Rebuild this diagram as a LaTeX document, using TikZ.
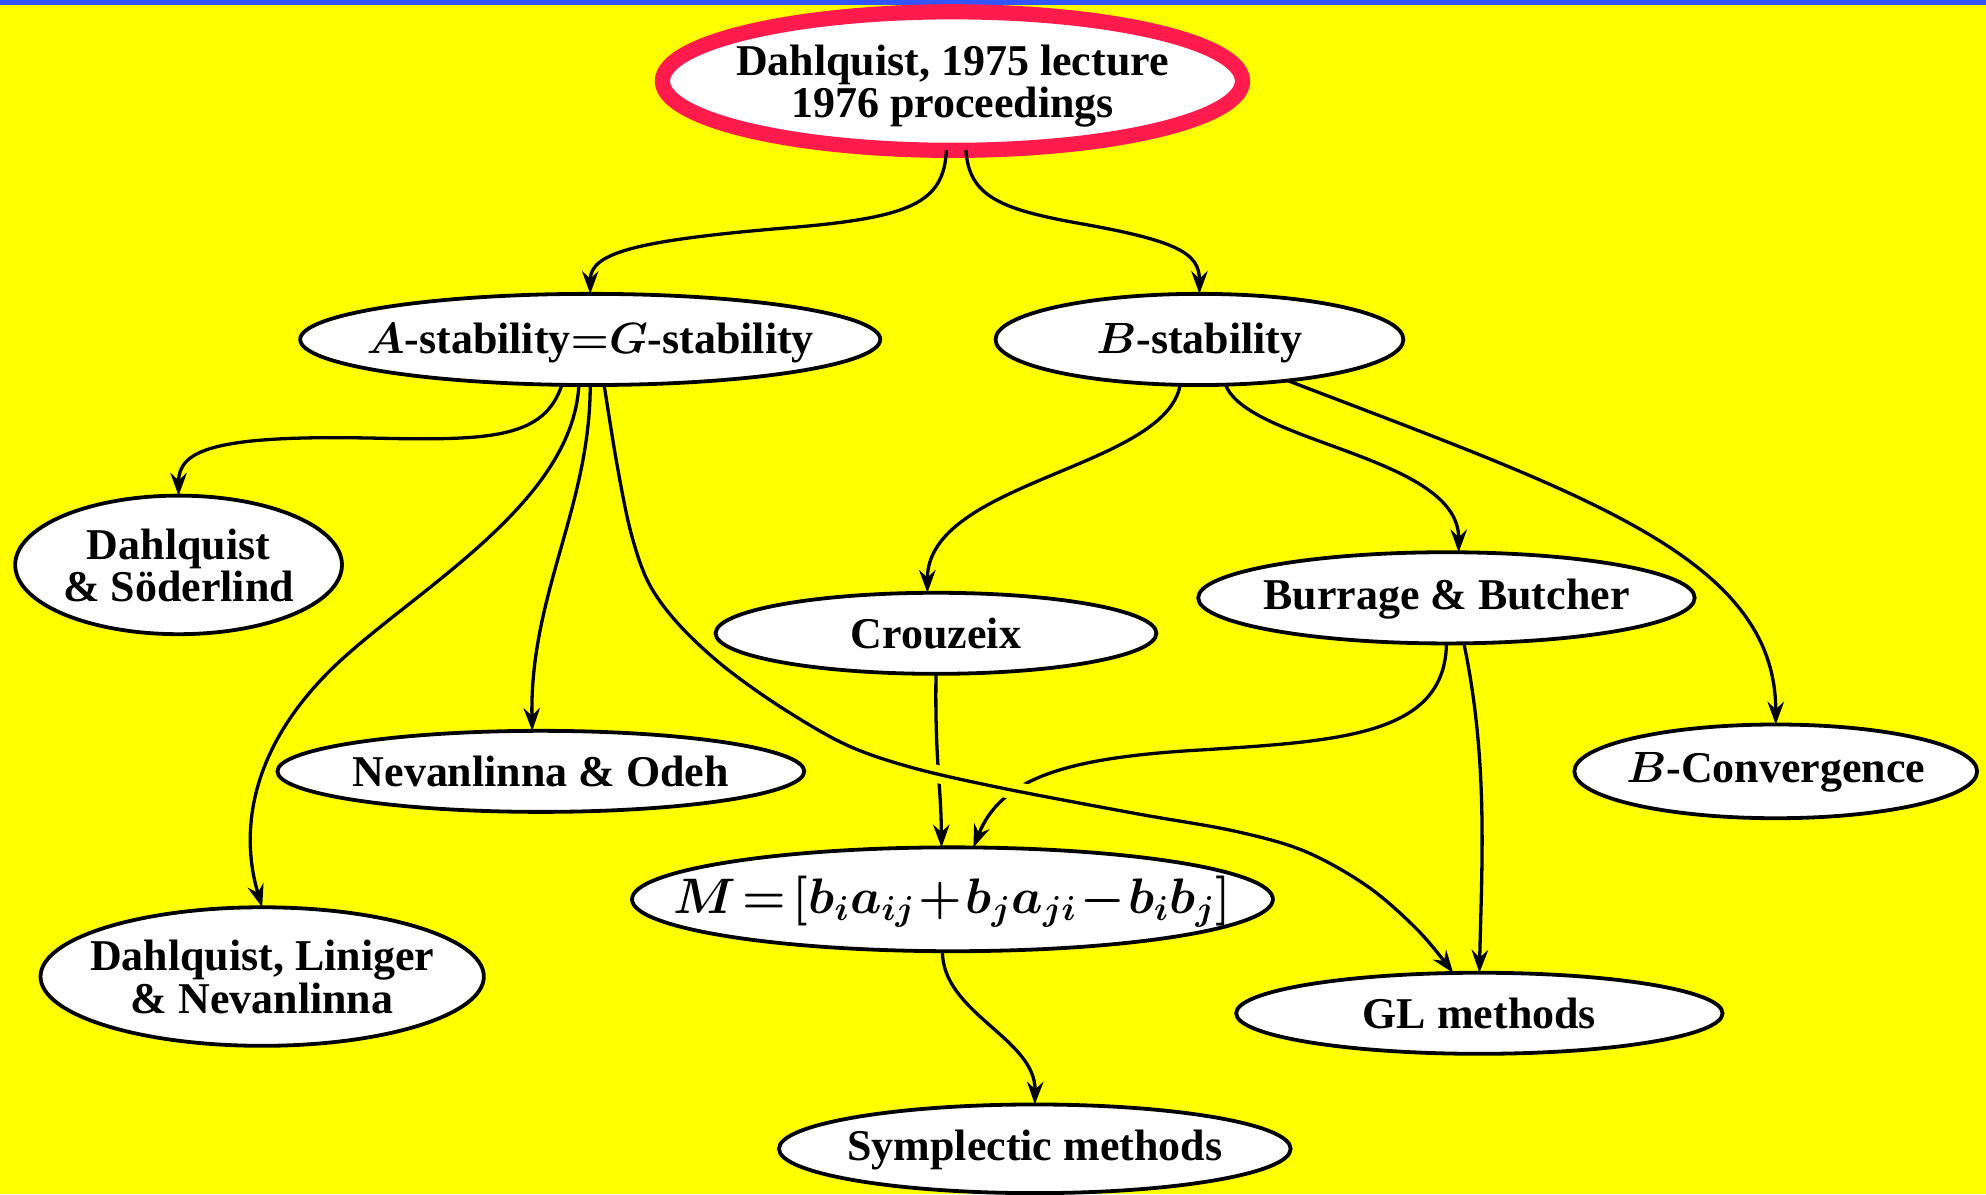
\documentclass[tikz,border=0pt]{standalone}
\usepackage{fontspec}
\usepackage{graphicx}
\setmainfont{Liberation Serif}
\usetikzlibrary{shapes.geometric,arrows.meta}

\definecolor{bgyellow}{RGB}{255,255,0}
\definecolor{topblue}{RGB}{51,85,255}
\definecolor{ringred}{RGB}{255,28,77}

% text of a node, kept out of the node's size computation;
% the optional argument adds room above, which lowers the text
\newcommand\oneline[2][0pt]{\makebox[0pt]{\raisebox{0pt}[\dimexpr\height+#1\relax]{#2}}}
\newcommand\twolines[2]{\makebox[0pt]{\raisebox{0pt}[\dimexpr\height+5pt\relax]{\begin{tabular}{@{}c@{}}#1\\#2\end{tabular}}}}

\tikzset{
  ell/.style={ellipse, draw, line width=1.5pt, fill=white, inner sep=0pt, outer sep=0pt},
  topell/.style={ell, draw=ringred, line width=6pt},
  link/.style={line width=1.3pt, -{Stealth[length=9pt,width=6.5pt,inset=3pt]}},
}

\begin{document}
\begin{tikzpicture}[x=0.5pt, y=-0.5pt,
  font=\fontsize{17.35}{16}\selectfont\bfseries\boldmath]

% background and top rule
\fill[bgyellow] (0,0) rectangle (1568,943);
\useasboundingbox (0,0) rectangle (1568,943);
\fill[topblue] (0,0) rectangle (1568,4);

% nodes
\node[topell, minimum width=229pt, minimum height=50pt] (top) at (752,64)
  {\twolines{Dahlquist, 1975 lecture}{1976 proceedings}};
\node[ell, minimum width=229pt, minimum height=36pt] (asta) at (466,268)
  {\oneline[2.5pt]{$A$-stability$=$$G$-stability}};
\node[ell, minimum width=161pt, minimum height=36pt] (bsta) at (947,268)
  {\oneline[2.5pt]{$B$-stability}};
\node[ell, minimum width=129pt, minimum height=46pt] (ds) at (141,446)
  {\twolines{Dahlquist}{\& Söderlind}};
\node[ell, minimum width=174pt, minimum height=32pt] (crz) at (739,500)
  {\oneline{Crouzeix}};
\node[ell, minimum width=196pt, minimum height=36pt] (bb) at (1142,472)
  {\oneline[1pt]{Burrage \& Butcher}};
\node[ell, minimum width=208pt, minimum height=32pt] (no) at (427,609)
  {\oneline{Nevanlinna \& Odeh}};
\node[ell, minimum width=159pt, minimum height=37pt] (bconv) at (1402,609)
  {\oneline[1pt]{$B$-Convergence}};
\node[ell, minimum width=253pt, minimum height=41pt] (mm) at (752,710)
  {\oneline[2pt]{\scalebox{1.14}{$M\!=\![b_ia_{ij}\!+\!b_ja_{ji}\!-\!b_ib_j]$}}};
\node[ell, minimum width=175pt, minimum height=48pt] (dln) at (207,771)
  {\twolines{Dahlquist, Liniger}{\& Nevanlinna}};
\node[ell, minimum width=192pt, minimum height=32pt] (gl) at (1168,800)
  {\oneline{GL methods}};
\node[ell, minimum width=202pt, minimum height=35pt] (sym) at (817,907)
  {\oneline[1pt]{Symplectic methods}};

% connectors
\draw[link] (top.265.6) .. controls (745,160) and (720,172) .. (620,180)
  .. controls (500,190) and (466,200) .. (asta.north);
\draw[link] (top.281) .. controls (765,155) and (790,165) .. (850,176)
  .. controls (930,190) and (947,200) .. (bsta.north);

\draw[link] (asta.238.6) .. controls (430,345) and (390,348) .. (300,346)
  .. controls (170,343) and (141,355) .. (ds.north);
\draw[link] (asta.256) .. controls (452,400) and (320,470) .. (260,530)
  .. controls (195,595) and (190,660) .. (dln.north);
\draw[link] (asta.270) .. controls (466,400) and (418,470) .. (no.102);

\draw[link] (bsta.247.4) .. controls (920,370) and (732,380) .. (crz.102);
\draw[link] (bsta.300) .. controls (985,350) and (1152,360) .. (bb.75);
\draw[link] (bsta.335) .. controls (1250,390) and (1402,440) .. (bconv.north);

\draw[link] (crz.south) .. controls (738,600) and (743,620) .. (mm.102);
\draw[link] (bb.south) .. controls (1141,580) and (1060,585) .. (950,592)
  .. controls (840,598) and (790,615) .. (mm.68);
\draw[link] (bb.291) .. controls (1175,600) and (1170,680) .. (gl.north);
\draw[link] (mm.259) .. controls (744,800) and (818,820) .. (sym.north);

% the long A-stability -> GL connector passes over the two arrows into M
\begin{scope}
  \clip (700,585) rectangle (850,645);
  \draw[bgyellow, line width=7pt] plot[smooth, tension=0.55] coordinates {
    (asta.287) (487,366) (498,420) (512,460) (535,492) (570,525) (616,558)
    (668,588) (720,606) (790,622) (895,642) (974,656) (1030,672) (1080,700)
    (1120,735) (gl.123)};
\end{scope}
\draw[link] plot[smooth, tension=0.55] coordinates {
    (asta.287) (487,366) (498,420) (512,460) (535,492) (570,525) (616,558)
    (668,588) (720,606) (790,622) (895,642) (974,656) (1030,672) (1080,700)
    (1120,735) (gl.123)};

\end{tikzpicture}
\end{document}
